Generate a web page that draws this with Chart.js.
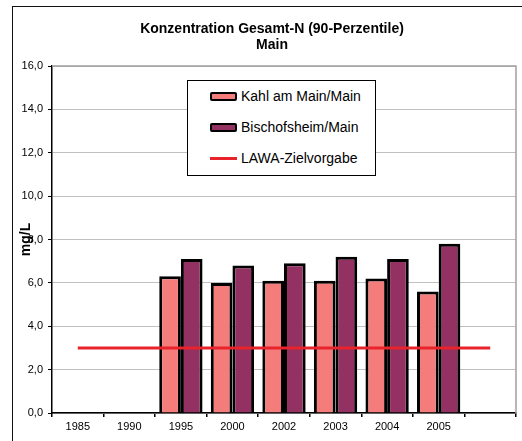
<!DOCTYPE html>
<html>
<head>
<meta charset="utf-8">
<script src="https://cdn.jsdelivr.net/npm/chart.js@4"></script>
<style>
    body { margin: 0; background: #fff; font-family: 'Liberation Sans', Arial, sans-serif; }
    #wrap { position: relative; width: 522px; height: 441px; overflow: hidden; }
    #frame { position: absolute; left: 12px; top: 6px; width: 600px; height: 600px; border: 1.5px solid #111; }
    #title { position: absolute; left: 12px; width: 520px; top: 20px; text-align: center; font-weight: bold; font-size: 14px; line-height: 16px; color: #000; }
    #chart { position: absolute; left: 0; top: 0; }
    #legend { position: absolute; left: 187px; top: 80px; width: 189px; height: 96px; border: 1px solid #000; background: #fff; box-sizing: border-box; }
    .item { position: absolute; left: 22px; height: 16px; font-size: 14px; line-height: 16px; color: #000; white-space: nowrap; }
    .swatch { display: inline-block; vertical-align: middle; width: 27px; height: 9px; box-sizing: border-box; margin-right: 4px; position: relative; top: -1px; }
</style>
</head>
<body>
<div id="wrap">
    <div id="frame"></div>
    <canvas id="chart" width="522" height="441"></canvas>
    <div id="title">Konzentration Gesamt-N (90-Perzentile)<br>Main</div>
    <div id="legend"></div>
</div>
<script>
const years = ['1985', '1990', '1995', '2000', '2002', '2003', '2004', '2005', ''];
const kahl = [null, null, 6.3, 6.0, 6.1, 6.1, 6.2, 5.6, null];
const bischofsheim = [null, null, 7.1, 6.8, 6.9, 7.2, 7.1, 7.8, null];
const zielvorgabe = [3, 3, 3, 3, 3, 3, 3, 3, 3];
const yTicks = [0, 2, 4, 6, 8, 10, 12, 14, 16];

const fontFamily = "'Liberation Sans', Arial, sans-serif";

// gray frame on top/right of the plot area
const plotFrame = {
    id: 'plotFrame',
    afterDraw(chart) {
        const { ctx, chartArea: a } = chart;
        ctx.save();
        ctx.strokeStyle = '#a0a0a0';
        ctx.lineWidth = 1.5;
        ctx.beginPath();
        ctx.moveTo(a.left, a.top);
        ctx.lineTo(a.right, a.top);
        ctx.lineTo(a.right, a.bottom);
        ctx.stroke();
        ctx.restore();
    }
};

const datasets = [
    {
        type: 'line',
        label: 'LAWA-Zielvorgabe',
        data: zielvorgabe,
        borderColor: '#e8232b',
        borderWidth: 3,
        pointRadius: 0,
        fill: false,
        order: 0
    },
    {
        label: 'Kahl am Main/Main',
        data: kahl,
        backgroundColor: '#f47d7c',
        borderColor: '#000',
        borderWidth: 3,
        order: 1
    },
    {
        label: 'Bischofsheim/Main',
        data: bischofsheim,
        backgroundColor: '#933262',
        borderColor: '#000',
        borderWidth: 3,
        order: 1
    }
];

new Chart(document.getElementById('chart').getContext('2d'), {
    type: 'bar',
    data: { labels: years, datasets: datasets },
    options: {
        responsive: false,
        animation: false,
        layout: { padding: { top: 66, right: 6, bottom: 0, left: 0 } },
        datasets: { bar: { categoryPercentage: 0.84, barPercentage: 1.0 } },
        plugins: { legend: { display: false }, title: { display: false }, tooltip: { enabled: false } },
        scales: {
            x: {
                offset: true,
                afterFit(scale) { scale.height = 28; },
                grid: { display: true, drawOnChartArea: false, offset: true, tickLength: 4, tickColor: '#000', lineWidth: 1.5 },
                border: { color: '#000', width: 1.5 },
                ticks: { color: '#000', padding: 3, maxRotation: 0, font: { family: fontFamily, size: 11 } }
            },
            y: {
                min: 0,
                max: 16,
                afterFit(scale) { scale.width = 52; },
                afterBuildTicks(scale) { scale.ticks = yTicks.map(v => ({ value: v })); },
                grid: { color: '#c0c0c0', lineWidth: 1, tickLength: 4, tickColor: '#000' },
                border: { color: '#000', width: 1.5 },
                ticks: {
                    color: '#000',
                    padding: 5,
                    font: { family: fontFamily, size: 11 },
                    callback: v => v.toFixed(1).replace('.', ',')
                },
                title: {
                    display: true,
                    text: 'mg/L',
                    color: '#000',
                    padding: { top: 18, bottom: 0 },
                    font: { family: fontFamily, size: 14, weight: 'bold' }
                }
            }
        }
    },
    plugins: [plotFrame]
});

// legend box inside the plot, built from the datasets
const legend = document.getElementById('legend');
const legendOrder = [datasets[1], datasets[2], datasets[0]];
legendOrder.forEach((ds, i) => {
    const item = document.createElement('div');
    item.className = 'item';
    item.style.top = (7 + i * 31) + 'px';
    const sw = document.createElement('span');
    sw.className = 'swatch';
    if (ds.type === 'line') {
        sw.style.height = '3px';
        sw.style.background = ds.borderColor;
    } else {
        sw.style.background = ds.backgroundColor;
        sw.style.border = '2px solid #000';
        sw.style.borderRadius = '2px';
    }
    item.appendChild(sw);
    item.appendChild(document.createTextNode(ds.label));
    legend.appendChild(item);
});
</script>
</body>
</html>
